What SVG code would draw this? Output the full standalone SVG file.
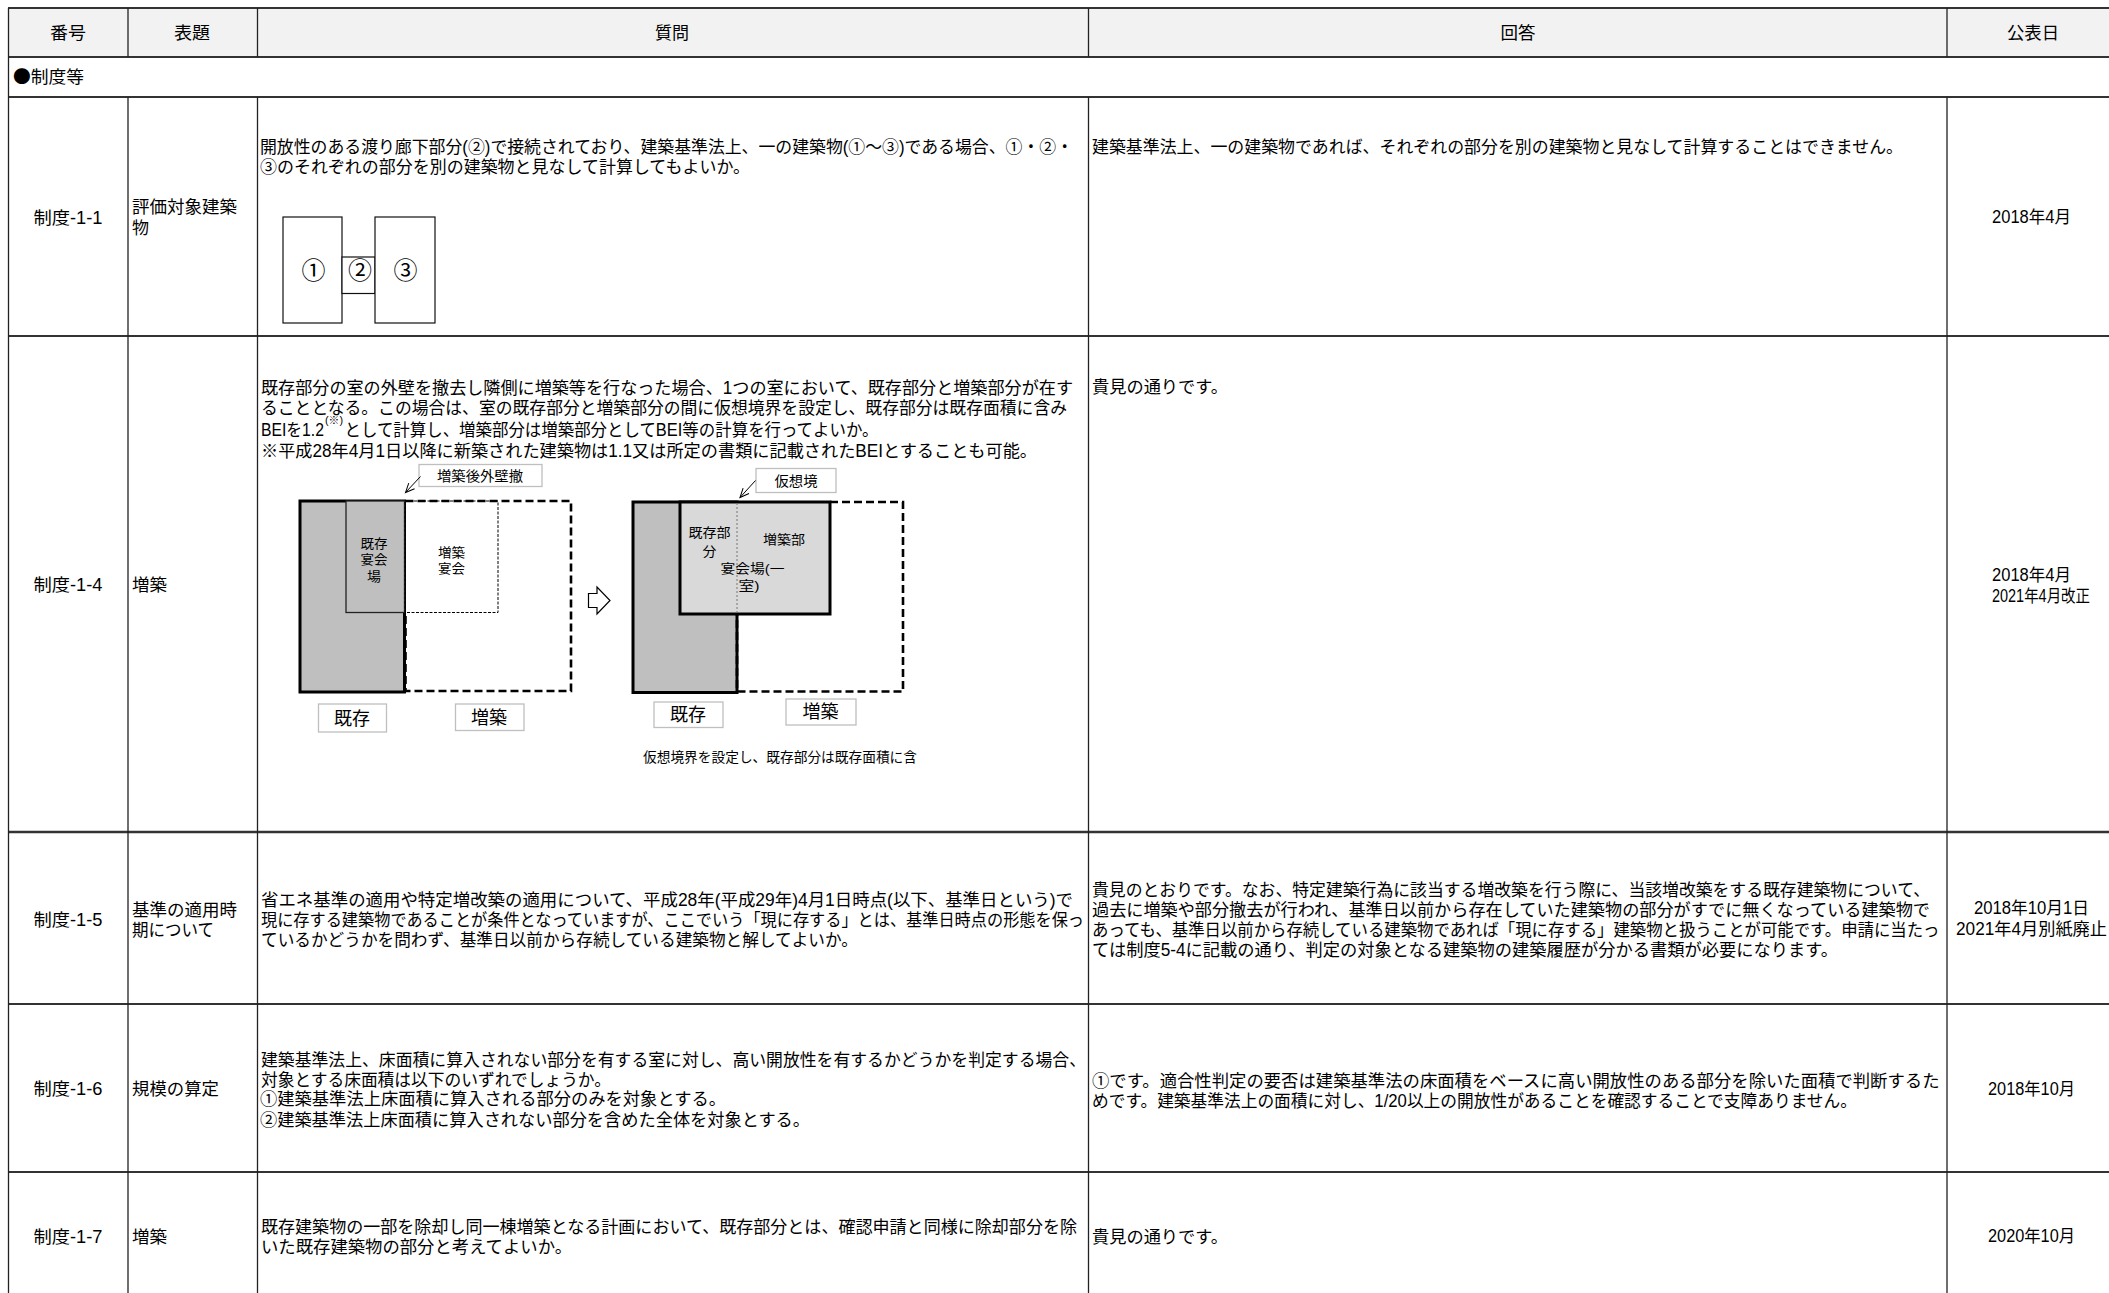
<svg xmlns="http://www.w3.org/2000/svg" width="2109" height="1293" viewBox="0 0 2109 1293">
<style>
text{font-family:"Liberation Sans","Noto Sans CJK JP","Noto Sans CJK SC",sans-serif;font-size:17.5px;fill:#000}
.c{text-anchor:middle}
.s{font-size:13px}
.m{font-size:14px}
.b{font-size:18px}
.k{font-size:24px}
.j{font-family:"Noto Sans CJK JP",sans-serif}
.h{stroke:#333;stroke-width:2;fill:none}
.v{stroke:#222;stroke-width:1.3;fill:none}
.lb{fill:#fff;stroke:#bfbfbf;stroke-width:1.3}
.bk{fill:#fff;stroke:#111;stroke-width:1.2}
.gr{fill:#bfbfbf;stroke:#000;stroke-width:3}
.ds{fill:none;stroke:#000;stroke-width:2.6;stroke-dasharray:8 4}
</style>
<defs><marker id="open" markerWidth="12" markerHeight="12" refX="10" refY="5" orient="auto" markerUnits="userSpaceOnUse"><path d="M1 1L10 5L1 9" fill="none" stroke="#000" stroke-width="1"/></marker></defs>
<rect width="2109" height="1293" fill="#fff"/>
<rect x="9" y="8" width="2100" height="48" fill="#f2f2f2"/>
<g id="grid">
<path class="h" d="M8 8H2109M8 57H2109M8 97H2109M8 336H2109M8 1004H2109M8 1172H2109"/>
<path class="h" style="stroke-width:2.6" d="M8 832H2109"/>
<path class="v" d="M8.5 8V1293M128 8V57M128 97V1293M257.500 8V57M257.500 97V1293M1088.5 8V57M1088.5 97V1293M1947 8V57M1947 97V1293"/>
</g>
<g id="header">
<text class="c" x="68" y="39" textLength="36" lengthAdjust="spacingAndGlyphs">番号</text>
<text class="c" x="192" y="39" textLength="36" lengthAdjust="spacingAndGlyphs">表題</text>
<text class="c" x="672" y="39" textLength="34" lengthAdjust="spacingAndGlyphs">質問</text>
<text class="c" x="1518" y="39" textLength="35" lengthAdjust="spacingAndGlyphs">回答</text>
<text class="c" x="2033" y="39" textLength="52" lengthAdjust="spacingAndGlyphs">公表日</text>
</g>
<g id="section"><text class="j" x="13" y="82.5" textLength="71" lengthAdjust="spacingAndGlyphs">●制度等</text></g>
<g id="row-1-1">
<text class="c" x="68" y="224" textLength="69" lengthAdjust="spacingAndGlyphs">制度-1-1</text>
<text x="132" y="213" textLength="105" lengthAdjust="spacingAndGlyphs">評価対象建築</text>
<text x="132" y="234" textLength="17" lengthAdjust="spacingAndGlyphs">物</text>
<text x="260" y="152.500" textLength="813" lengthAdjust="spacingAndGlyphs">開放性のある渡り廊下部分(②)で接続されており、建築基準法上、一の建築物(①～③)である場合、①・②・</text>
<text x="260" y="172.500" textLength="490" lengthAdjust="spacingAndGlyphs">③のそれぞれの部分を別の建築物と見なして計算してもよいか。</text>
<text x="1092" y="152.500" textLength="811" lengthAdjust="spacingAndGlyphs">建築基準法上、一の建築物であれば、それぞれの部分を別の建築物と見なして計算することはできません。</text>
<text class="c" x="2031.5" y="223" textLength="79" lengthAdjust="spacingAndGlyphs">2018年4月</text>
</g>
<g id="fig-1">
<rect class="bk" x="283" y="217" width="59" height="106"/>
<rect class="bk" x="342" y="257" width="33" height="36.500"/>
<rect class="bk" x="375" y="217" width="60" height="106"/>
<text class="c k" x="313.500" y="279" textLength="24" lengthAdjust="spacingAndGlyphs">①</text>
<text class="c k" x="360" y="279" textLength="24" lengthAdjust="spacingAndGlyphs">②</text>
<text class="c k" x="405.500" y="279" textLength="24" lengthAdjust="spacingAndGlyphs">③</text>
</g>
<g id="row-1-4">
<text class="c" x="68" y="591" textLength="69" lengthAdjust="spacingAndGlyphs">制度-1-4</text>
<text x="132" y="591" textLength="35" lengthAdjust="spacingAndGlyphs">増築</text>
<text x="261" y="393.500" textLength="812" lengthAdjust="spacingAndGlyphs">既存部分の室の外壁を撤去し隣側に増築等を行なった場合、1つの室において、既存部分と増築部分が在す</text>
<text x="261" y="413.500" textLength="806" lengthAdjust="spacingAndGlyphs">ることとなる。この場合は、室の既存部分と増築部分の間に仮想境界を設定し、既存部分は既存面積に含み</text>
<text x="261" y="435.500" textLength="63" lengthAdjust="spacingAndGlyphs">BEIを1.2</text>
<text x="325" y="423.500" style="font-size:10px" textLength="18" lengthAdjust="spacingAndGlyphs">(※)</text>
<text x="344.500" y="435.500" textLength="534" lengthAdjust="spacingAndGlyphs">として計算し、増築部分は増築部分としてBEI等の計算を行ってよいか。</text>
<text x="261" y="456.500" textLength="776" lengthAdjust="spacingAndGlyphs">※平成28年4月1日以降に新築された建築物は1.1又は所定の書類に記載されたBEIとすることも可能。</text>
<text x="1092" y="393" textLength="136" lengthAdjust="spacingAndGlyphs">貴見の通りです。</text>
<text class="c" x="2031.5" y="580.500" textLength="79" lengthAdjust="spacingAndGlyphs">2018年4月</text>
<text class="c" x="2041" y="601.500" textLength="98" lengthAdjust="spacingAndGlyphs">2021年4月改正</text>
</g>
<g id="fig-left">
<rect class="gr" x="300" y="501" width="104.500" height="191"/>
<rect x="346" y="501" width="58.500" height="111.500" fill="#bfbfbf" stroke="#222" stroke-width="1.3"/>
<path class="ds" d="M405.500 501H571V691H405.500V612"/>
<rect x="405" y="501" width="93" height="111.500" fill="none" stroke="#000" stroke-width="1" stroke-dasharray="3 1.500"/>
<text class="c s" x="374" y="547.500" textLength="27" lengthAdjust="spacingAndGlyphs">既存</text>
<text class="c s" x="374" y="564" textLength="27" lengthAdjust="spacingAndGlyphs">宴会</text>
<text class="c s" x="374" y="581" textLength="14" lengthAdjust="spacingAndGlyphs">場</text>
<text class="c s" x="451.500" y="557" textLength="27" lengthAdjust="spacingAndGlyphs">増築</text>
<text class="c s" x="451.500" y="573" textLength="27" lengthAdjust="spacingAndGlyphs">宴会</text>
<rect class="lb" x="419" y="464.500" width="123" height="22"/>
<text class="c m" x="480" y="481" textLength="86" lengthAdjust="spacingAndGlyphs">増築後外壁撤</text>
<rect class="lb" x="318.500" y="704" width="68" height="28"/>
<text class="c b" x="352" y="724.500" textLength="36" lengthAdjust="spacingAndGlyphs">既存</text>
<rect class="lb" x="455.500" y="704" width="68.500" height="26.500"/>
<text class="c b" x="489" y="723.500" textLength="36" lengthAdjust="spacingAndGlyphs">増築</text>
</g>
<g id="arrow-block"><path d="M588.500 593.500H597V587L610 600.500L597 614V607.500H588.500Z" fill="#fff" stroke="#000" stroke-width="1.200"/></g>
<g id="fig-right">
<rect class="gr" x="633" y="502" width="104" height="190.500"/>
<path class="ds" d="M830 502H903V691.500H737V614"/>
<rect x="680" y="502" width="150" height="112" fill="#d9d9d9" stroke="#000" stroke-width="3"/>
<path d="M737 503V613" stroke="#777" stroke-width="1" stroke-dasharray="2 2" fill="none"/>
<text class="c s" x="709.500" y="536.500" textLength="42" lengthAdjust="spacingAndGlyphs">既存部</text>
<text class="c s" x="709.500" y="555.500" textLength="14" lengthAdjust="spacingAndGlyphs">分</text>
<text class="c s" x="784" y="544" textLength="42" lengthAdjust="spacingAndGlyphs">増築部</text>
<text class="c s" x="752.500" y="573" textLength="64" lengthAdjust="spacingAndGlyphs">宴会場(一</text>
<text class="c s" x="749" y="590" textLength="21" lengthAdjust="spacingAndGlyphs">室)</text>
<rect class="lb" x="756" y="468.500" width="80" height="24"/>
<text class="c m" x="796" y="485.500" textLength="43" lengthAdjust="spacingAndGlyphs">仮想境</text>
<rect class="lb" x="654" y="702" width="69" height="25.500"/>
<text class="c b" x="688" y="721" textLength="36" lengthAdjust="spacingAndGlyphs">既存</text>
<rect class="lb" x="786" y="699" width="70" height="26"/>
<text class="c b" x="820.500" y="718" textLength="36" lengthAdjust="spacingAndGlyphs">増築</text>
<text class="c m" x="780" y="762" textLength="274" lengthAdjust="spacingAndGlyphs">仮想境界を設定し、既存部分は既存面積に含</text>
</g>
<g id="connectors" fill="none" stroke="#000" stroke-width="1">
<path d="M420.500 476.500L405.500 492.500" marker-end="url(#open)"/>
<path d="M755.500 480.500L740 497.500" marker-end="url(#open)"/>
</g>
<g id="row-1-5">
<text class="c" x="68" y="925.500" textLength="69" lengthAdjust="spacingAndGlyphs">制度-1-5</text>
<text x="132" y="915.500" textLength="105" lengthAdjust="spacingAndGlyphs">基準の適用時</text>
<text x="132" y="936" textLength="82" lengthAdjust="spacingAndGlyphs">期について</text>
<text x="261" y="906" textLength="812" lengthAdjust="spacingAndGlyphs">省エネ基準の適用や特定増改築の適用について、平成28年(平成29年)4月1日時点(以下、基準日という)で</text>
<text x="261" y="926" textLength="823" lengthAdjust="spacingAndGlyphs">現に存する建築物であることが条件となっていますが、ここでいう「現に存する」とは、基準日時点の形態を保っ</text>
<text x="261" y="946" textLength="597" lengthAdjust="spacingAndGlyphs">ているかどうかを問わず、基準日以前から存続している建築物と解してよいか。</text>
<text x="1092" y="896" textLength="838" lengthAdjust="spacingAndGlyphs">貴見のとおりです。なお、特定建築行為に該当する増改築を行う際に、当該増改築をする既存建築物について、</text>
<text x="1092" y="916" textLength="838" lengthAdjust="spacingAndGlyphs">過去に増築や部分撤去が行われ、基準日以前から存在していた建築物の部分がすでに無くなっている建築物で</text>
<text x="1092" y="936" textLength="847.500" lengthAdjust="spacingAndGlyphs">あっても、基準日以前から存続している建築物であれば「現に存する」建築物と扱うことが可能です。申請に当たっ</text>
<text x="1092" y="956" textLength="746" lengthAdjust="spacingAndGlyphs">ては制度5-4に記載の通り、判定の対象となる建築物の建築履歴が分かる書類が必要になります。</text>
<text class="c" x="2031.5" y="914" textLength="115" lengthAdjust="spacingAndGlyphs">2018年10月1日</text>
<text class="c" x="2031.5" y="935" textLength="151" lengthAdjust="spacingAndGlyphs">2021年4月別紙廃止</text>
</g>
<g id="row-1-6">
<text class="c" x="68" y="1095" textLength="69" lengthAdjust="spacingAndGlyphs">制度-1-6</text>
<text x="132" y="1095" textLength="87" lengthAdjust="spacingAndGlyphs">規模の算定</text>
<text x="261" y="1065.500" textLength="825" lengthAdjust="spacingAndGlyphs">建築基準法上、床面積に算入されない部分を有する室に対し、高い開放性を有するかどうかを判定する場合、</text>
<text x="261" y="1085.500" textLength="350" lengthAdjust="spacingAndGlyphs">対象とする床面積は以下のいずれでしょうか。</text>
<text x="260" y="1105" textLength="466" lengthAdjust="spacingAndGlyphs">①建築基準法上床面積に算入される部分のみを対象とする。</text>
<text x="260" y="1125.500" textLength="550" lengthAdjust="spacingAndGlyphs">②建築基準法上床面積に算入されない部分を含めた全体を対象とする。</text>
<text x="1092" y="1087" textLength="847.500" lengthAdjust="spacingAndGlyphs">①です。適合性判定の要否は建築基準法の床面積をベースに高い開放性のある部分を除いた面積で判断するた</text>
<text x="1092" y="1106.500" textLength="765" lengthAdjust="spacingAndGlyphs">めです。建築基準法上の面積に対し、1/20以上の開放性があることを確認することで支障ありません。</text>
<text class="c" x="2031.5" y="1095" textLength="87" lengthAdjust="spacingAndGlyphs">2018年10月</text>
</g>
<g id="row-1-7">
<text class="c" x="68" y="1242.500" textLength="69" lengthAdjust="spacingAndGlyphs">制度-1-7</text>
<text x="132" y="1242.500" textLength="35" lengthAdjust="spacingAndGlyphs">増築</text>
<text x="261" y="1232.500" textLength="816" lengthAdjust="spacingAndGlyphs">既存建築物の一部を除却し同一棟増築となる計画において、既存部分とは、確認申請と同様に除却部分を除</text>
<text x="261" y="1252.500" textLength="311" lengthAdjust="spacingAndGlyphs">いた既存建築物の部分と考えてよいか。</text>
<text x="1092" y="1242.500" textLength="136" lengthAdjust="spacingAndGlyphs">貴見の通りです。</text>
<text class="c" x="2031.5" y="1242" textLength="87" lengthAdjust="spacingAndGlyphs">2020年10月</text>
</g>
</svg>
